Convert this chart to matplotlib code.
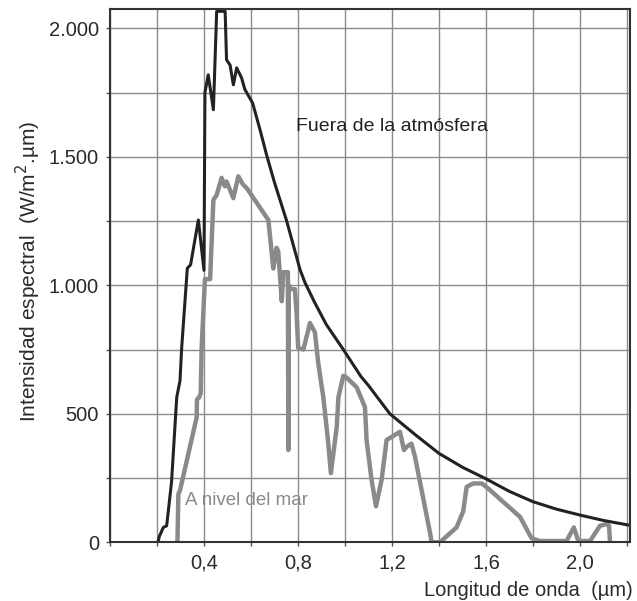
import matplotlib.pyplot as plt
from matplotlib.ticker import MultipleLocator, FuncFormatter

plt.rcParams['font.family'] = ['Liberation Sans', 'DejaVu Sans']

# Fuera de la atmosfera (black curve)
x_out = [0.204, 0.210, 0.227, 0.241, 0.248, 0.262, 0.284, 0.298, 0.305, 0.329,
         0.343, 0.376, 0.400, 0.404, 0.418, 0.440, 0.454, 0.490, 0.496, 0.511,
         0.525, 0.539, 0.560, 0.574, 0.607, 0.640, 0.667, 0.700, 0.752, 0.809,
         0.830, 0.870, 0.920, 0.993, 1.068, 1.100, 1.191, 1.300, 1.400, 1.500,
         1.600, 1.700, 1.800, 1.900, 2.000, 2.100, 2.213]
y_out = [0, 23, 58, 64, 120, 236, 564, 630, 756, 1066,
         1080, 1254, 1058, 1750, 1819, 1683, 2066, 2066, 1877, 1857,
         1780, 1846, 1807, 1762, 1709, 1600, 1505, 1400, 1250, 1060,
         1010, 935, 848, 750, 645, 610, 500, 418, 346, 292,
         247, 198, 158, 129, 106, 85, 66]

# A nivel del mar (gray curve)
x_sea = [0.287, 0.291, 0.298, 0.369, 0.370, 0.380, 0.386, 0.390, 0.404, 0.426,
         0.440, 0.454, 0.475, 0.489, 0.496, 0.525, 0.546, 0.567, 0.582, 0.674,
         0.695, 0.709, 0.716, 0.731, 0.738, 0.757, 0.759, 0.761, 0.770, 0.787,
         0.794, 0.801, 0.823, 0.851, 0.872, 0.887, 0.908, 0.929, 0.940, 0.965,
         0.972, 0.993, 1.007, 1.050, 1.085, 1.092, 1.113, 1.132, 1.156, 1.170,
         1.177, 1.199, 1.234, 1.251, 1.262, 1.283, 1.298, 1.362, 1.369, 1.404,
         1.475, 1.503, 1.518, 1.546, 1.582, 1.610, 1.660, 1.745, 1.794, 1.830,
         1.943, 1.974, 1.993, 2.043, 2.085, 2.113, 2.124, 2.128]
y_sea = [0, 188, 202, 487, 555, 565, 580, 756, 1024, 1024,
         1332, 1352, 1418, 1385, 1404, 1339, 1424, 1391, 1378, 1254,
         1065, 1146, 1132, 938, 1051, 1051, 359, 1000, 985, 985,
         891, 756, 750, 853, 817, 692, 564, 385, 269, 449,
         564, 648, 641, 603, 526, 398, 244, 140, 244, 346,
         398, 410, 430, 359, 371, 384, 333, 37, 0, 0,
         58, 120, 216, 229, 229, 209, 168, 99, 16, 5,
         5, 58, 5, 5, 64, 71, 64, 0]

fig = plt.figure(figsize=(6.37, 6.01), dpi=100)
ax = fig.add_axes([110 / 637, 58.7 / 601, 520 / 637, 533.3 / 601])

ax.plot(x_sea, y_sea, color='#8a8a8a', lw=3.2, solid_joinstyle='round', zorder=3)
ax.plot(x_out, y_out, color='#222222', lw=2.2, solid_joinstyle='round', zorder=4)

ax.set_xlim(0, 2.213)
ax.set_ylim(0, 2075)

ax.xaxis.set_major_locator(MultipleLocator(0.4))
ax.xaxis.set_minor_locator(MultipleLocator(0.2))
ax.yaxis.set_major_locator(MultipleLocator(500))
ax.yaxis.set_minor_locator(MultipleLocator(250))
ax.xaxis.set_major_formatter(FuncFormatter(lambda v, p: '' if v < 0.1 else f'{v:.1f}'.replace('.', ',')))
ax.yaxis.set_major_formatter(FuncFormatter(lambda v, p: f'{int(v):,}'.replace(',', '.')))

ax.grid(which='both', color='#8c8c8c', lw=1.0, zorder=1)
ax.tick_params(which='both', direction='out', length=3, width=1, color='#555555',
               labelsize=14.5, labelcolor='#2a2a2a')
ax.tick_params(axis='x', pad=5)
ax.tick_params(axis='y', pad=5)
for s in ax.spines.values():
    s.set_color('#333333')
    s.set_linewidth(1.5)
    s.set_zorder(5)

ax.text(0.79, 1617, 'Fuera de la atmósfera', fontsize=14, color='#222222',
        va='center', ha='left', zorder=6)
ax.text(0.32, 162, 'A nivel del mar', fontsize=13.5, color='#8a8a8a',
        va='center', ha='left', zorder=6)

fig.text(633 / 637, 1 - 590 / 601, 'Longitud de onda  (µm)', fontsize=14.5,
         color='#2a2a2a', ha='right', va='center')
fig.text(28 / 637, 1 - 271 / 601, 'Intensidad espectral  (W/m$^2$.µm)', fontsize=15,
         color='#2a2a2a', ha='center', va='center', rotation=90)

fig.savefig('out.png', dpi=100, facecolor='white')
